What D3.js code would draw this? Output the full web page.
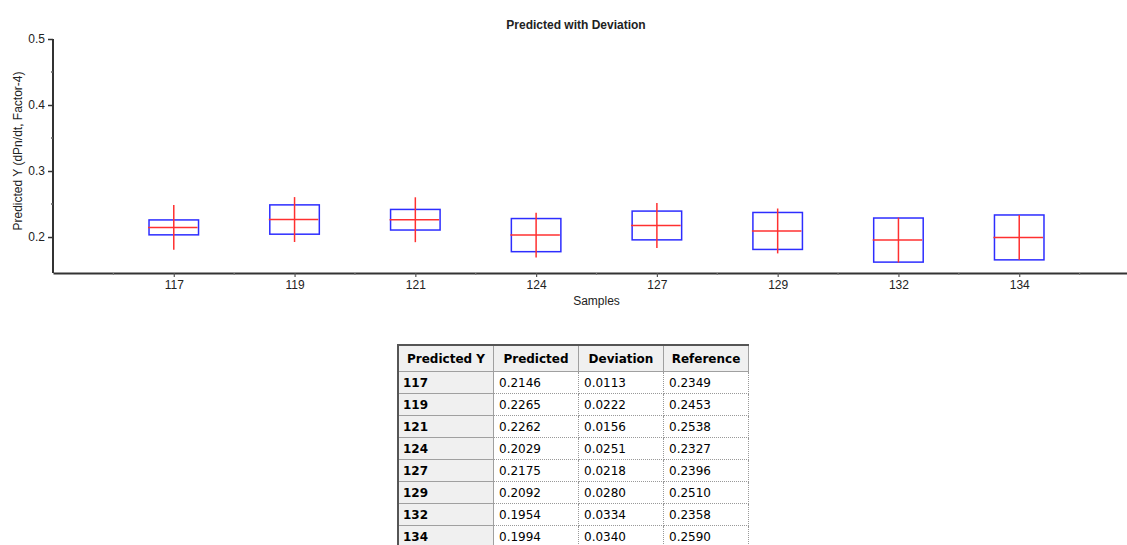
<!DOCTYPE html>
<html>
<head>
<meta charset="utf-8">
<script src="https://cdn.jsdelivr.net/npm/d3@7/dist/d3.min.js"></script>
<style>
  html, body { margin: 0; padding: 0; background: #fff; }
  body { width: 1127px; height: 545px; overflow: hidden; position: relative; }
  svg { position: absolute; left: 0; top: 0; }
  text { font-family: "Liberation Sans", Arial, sans-serif; fill: #222; }
  #tbl { position: absolute; left: 397px; top: 344px; border-collapse: collapse;
         font-family: "DejaVu Sans", sans-serif; font-size: 12px; color: #000;
         border-top: 2px solid #555; border-left: 2px solid #555; }
  #tbl th { background: #f0f0f0; font-weight: bold; text-align: center; height: 25px;
            padding: 0; border: 1px solid #a0a0a0; }
  #tbl td { height: 21px; padding: 0 0 0 5px; border: 1px dotted #999; background: #fff; text-align: left; }
  #tbl td.rh { background: #f0f0f0; font-weight: bold; border: 1px solid #a0a0a0; padding-left: 4px; }
</style>
</head>
<body>
<svg id="chart" width="1127" height="330"></svg>
<table id="tbl"></table>
<script>
// Samples and their predicted values with deviation
const samples    = ["117", "119", "121", "124", "127", "129", "132", "134"];
const predicted  = [0.2146, 0.2265, 0.2262, 0.2029, 0.2175, 0.2092, 0.1954, 0.1994];
const deviation  = [0.0113, 0.0222, 0.0156, 0.0251, 0.0218, 0.0280, 0.0334, 0.0340];
const reference  = [0.2349, 0.2453, 0.2538, 0.2327, 0.2396, 0.2510, 0.2358, 0.2590];
const yTicks     = [0.2, 0.3, 0.4, 0.5];
const yMinor     = [0.25, 0.35, 0.45];
const tableHead  = ["Predicted Y", "Predicted", "Deviation", "Reference"];

const svg = d3.select("#chart");
const plotLeft = 53, plotTop = 39, plotBottom = 273;

// sample index axis, one unit of padding on either side
const x = d3.scaleLinear().domain([-1, samples.length]).range([plotLeft, 1140]);
const y = d3.scaleLinear().domain([0.1455, 0.5]).range([plotBottom, plotTop]);

// whisker half-length: largest deviation in the set
const whisker = d3.max(deviation);
const boxW = (x(1) - x(0)) * 0.41;

// Title
svg.append("text").attr("x", 576).attr("y", 29).attr("text-anchor", "middle")
  .attr("font-size", 12).attr("font-weight", "bold").attr("fill", "#111")
  .text("Predicted with Deviation");

// Y axis
const yAxis = svg.append("g").attr("transform", `translate(${plotLeft},0)`)
  .call(d3.axisLeft(y).tickValues(yTicks).tickFormat(d3.format(".1f")).tickSize(5).tickSizeOuter(0));
yAxis.select(".domain").attr("stroke", "#333").attr("stroke-width", 2)
  .attr("d", `M0,${plotTop}V${plotBottom}`);
yAxis.selectAll(".tick line").attr("stroke", "#333").attr("stroke-width", 1.5);
yAxis.selectAll(".tick text").attr("font-size", 12).attr("fill", "#222")
  .attr("font-family", "Liberation Sans, Arial, sans-serif").attr("x", -8);
svg.append("g").selectAll("line").data(yMinor).join("line")
  .attr("x1", plotLeft - 2).attr("x2", plotLeft).attr("y1", d => y(d)).attr("y2", d => y(d))
  .attr("stroke", "#666").attr("stroke-width", 1.5);

svg.append("text")
  .attr("transform", `translate(22,${(plotTop + plotBottom) / 2 - 5}) rotate(-90)`)
  .attr("text-anchor", "middle").attr("font-size", 12)
  .text("Predicted Y (dPn/dt, Factor-4)");

// X axis
const xAxis = svg.append("g").attr("transform", `translate(0,${plotBottom})`)
  .call(d3.axisBottom(x).tickValues(d3.range(samples.length)).tickFormat(i => samples[i]).tickSize(4).tickSizeOuter(0));
xAxis.select(".domain").attr("stroke", "#333").attr("stroke-width", 2);
xAxis.selectAll(".tick line").attr("stroke", "#555").attr("stroke-width", 1.2);
xAxis.selectAll(".tick text").attr("font-size", 12).attr("fill", "#222")
  .attr("font-family", "Liberation Sans, Arial, sans-serif").attr("y", 7);
svg.append("g").selectAll("line").data(d3.range(-0.5, samples.length, 1)).join("line")
  .attr("x1", d => x(d)).attr("x2", d => x(d)).attr("y1", plotBottom).attr("y2", plotBottom + 2)
  .attr("stroke", "#777").attr("stroke-width", 1.2);

svg.append("text").attr("x", (plotLeft + 1140) / 2).attr("y", 305).attr("text-anchor", "middle")
  .attr("font-size", 12).text("Samples");

// Boxes: predicted ± deviation
const marks = svg.append("g");
marks.selectAll("rect").data(samples).join("rect")
  .attr("x", (d, i) => x(i) - boxW / 2)
  .attr("y", (d, i) => y(predicted[i] + deviation[i]))
  .attr("width", boxW)
  .attr("height", (d, i) => y(predicted[i] - deviation[i]) - y(predicted[i] + deviation[i]))
  .attr("fill", "none").attr("stroke", "#2d2dff").attr("stroke-width", 1.5);

// Predicted value line
marks.selectAll("line.pred").data(samples).join("line").attr("class", "pred")
  .attr("x1", (d, i) => x(i) - boxW / 2 - 1).attr("x2", (d, i) => x(i) + boxW / 2 - 1)
  .attr("y1", (d, i) => y(predicted[i])).attr("y2", (d, i) => y(predicted[i]))
  .attr("stroke", "#ff3030").attr("stroke-width", 1.5);

// Whisker
marks.selectAll("line.whisk").data(samples).join("line").attr("class", "whisk")
  .attr("x1", (d, i) => x(i)).attr("x2", (d, i) => x(i))
  .attr("y1", (d, i) => y(predicted[i] + whisker)).attr("y2", (d, i) => y(predicted[i] - whisker))
  .attr("stroke", "#ff3030").attr("stroke-width", 1.5);

// Values table
const tbl = d3.select("#tbl");
tbl.append("tr").selectAll("th").data(tableHead).join("th")
  .style("width", (d, i) => [94, 84, 84, 84][i] + "px").text(d => d);
const fmt = d3.format(".4f");
const rows = tbl.selectAll("tr.row").data(samples).join("tr").attr("class", "row");
rows.append("td").attr("class", "rh").text(d => d);
rows.append("td").text((d, i) => fmt(predicted[i]));
rows.append("td").text((d, i) => fmt(deviation[i]));
rows.append("td").text((d, i) => fmt(reference[i]));
</script>
</body>
</html>
